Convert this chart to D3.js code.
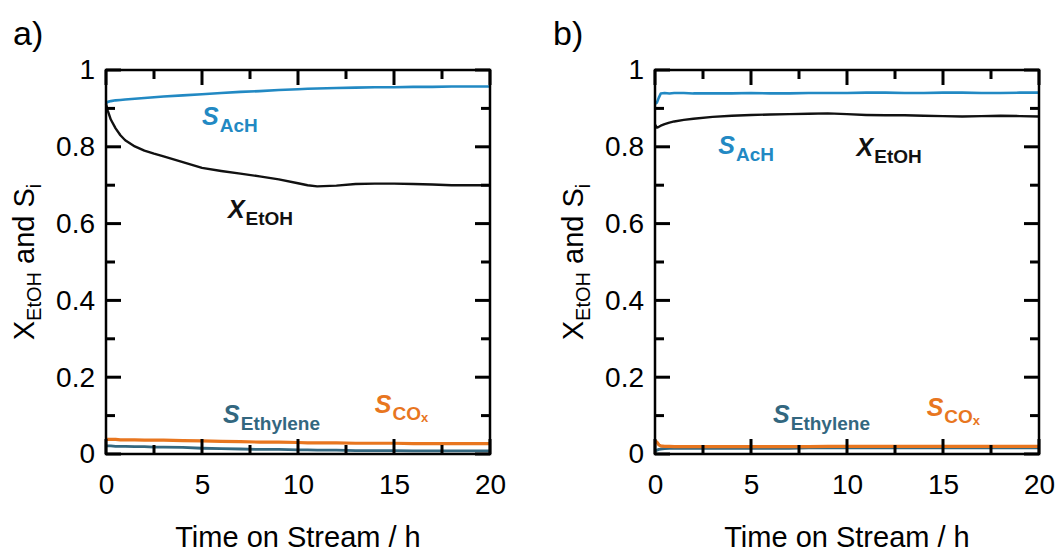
<!DOCTYPE html>
<html>
<head>
<meta charset="utf-8">
<script src="https://cdn.jsdelivr.net/npm/d3@7"></script>
<style>
  html, body { margin: 0; padding: 0; background: #fff; }
  svg { display: block; }
  text { font-family: Arial, "Liberation Sans", sans-serif; }
</style>
</head>
<body>
<svg id="chart" width="1058" height="553"></svg>
<script>
// ---- Panel a) time-on-stream data ----
const timeA = [0, 0.1, 0.25, 0.5, 0.75, 1, 1.5, 2, 2.5, 3, 4, 5, 6, 7, 8, 9, 10, 10.5, 11, 12, 13, 14, 15, 16, 17, 18, 19, 20];
const xEtOH_A = [0.912, 0.893, 0.871, 0.848, 0.830, 0.817, 0.801, 0.790, 0.782, 0.775, 0.760, 0.745, 0.737, 0.730, 0.723, 0.715, 0.705, 0.700, 0.697, 0.699, 0.703, 0.704, 0.704, 0.703, 0.702, 0.700, 0.700, 0.700];
const sAcH_A = [0.914, 0.917, 0.919, 0.921, 0.922, 0.923, 0.925, 0.927, 0.929, 0.931, 0.934, 0.937, 0.940, 0.943, 0.945, 0.948, 0.950, 0.951, 0.952, 0.953, 0.954, 0.955, 0.955, 0.956, 0.956, 0.957, 0.957, 0.957];
const sEthylene_A = [0.021, 0.021, 0.021, 0.020, 0.020, 0.020, 0.019, 0.019, 0.018, 0.018, 0.017, 0.015, 0.014, 0.013, 0.012, 0.012, 0.011, 0.011, 0.010, 0.010, 0.009, 0.009, 0.009, 0.008, 0.008, 0.008, 0.008, 0.008];
const sCOx_A = [0.038, 0.038, 0.038, 0.038, 0.037, 0.037, 0.037, 0.036, 0.036, 0.036, 0.035, 0.034, 0.033, 0.032, 0.031, 0.031, 0.030, 0.029, 0.029, 0.029, 0.028, 0.028, 0.028, 0.027, 0.027, 0.027, 0.027, 0.027];

// ---- Panel b) time-on-stream data ----
const timeB = [0, 0.1, 0.2, 0.3, 0.5, 0.75, 1, 1.5, 2, 3, 4, 5, 6, 7, 8, 9, 10, 11, 12, 13, 14, 15, 16, 17, 18, 19, 20];
const xEtOH_B = [0.858, 0.850, 0.852, 0.855, 0.859, 0.863, 0.866, 0.870, 0.873, 0.878, 0.881, 0.883, 0.884, 0.885, 0.886, 0.887, 0.885, 0.883, 0.882, 0.882, 0.881, 0.880, 0.879, 0.880, 0.881, 0.880, 0.879];
const sAcH_B = [0.912, 0.915, 0.928, 0.939, 0.940, 0.939, 0.940, 0.940, 0.939, 0.939, 0.939, 0.940, 0.939, 0.939, 0.940, 0.940, 0.940, 0.941, 0.941, 0.940, 0.940, 0.941, 0.941, 0.940, 0.940, 0.941, 0.941];
const sEthylene_B = [0.008, 0.010, 0.012, 0.013, 0.014, 0.015, 0.015, 0.015, 0.015, 0.015, 0.015, 0.015, 0.015, 0.015, 0.016, 0.016, 0.016, 0.016, 0.016, 0.016, 0.016, 0.016, 0.016, 0.016, 0.016, 0.016, 0.016];
const sCOx_B = [0.034, 0.031, 0.024, 0.021, 0.020, 0.020, 0.019, 0.019, 0.019, 0.019, 0.019, 0.019, 0.019, 0.019, 0.019, 0.020, 0.020, 0.020, 0.020, 0.020, 0.020, 0.020, 0.020, 0.020, 0.020, 0.020, 0.020];

// ---- Axis ticks ----
const xMajorTicks = [0, 5, 10, 15, 20];
const xMinorTicks = [2.5, 7.5, 12.5, 17.5];
const yMajorTicks = [0, 0.2, 0.4, 0.6, 0.8, 1];
const yMinorTicks = [0.1, 0.3, 0.5, 0.7, 0.9];

const xAxisTitle = "Time on Stream / h";
const panelLetters = ["a)", "b)"];

const colors = { x: "#111111", acH: "#2289c3", ethylene: "#33677f", cox: "#e8761f" };

const svg = d3.select("#chart");

function drawPanel(cfg) {
  const { left, top, width, height, letter, letterX, time, series, labels } = cfg;
  const x = d3.scaleLinear().domain([0, 20]).range([left, left + width]);
  const y = d3.scaleLinear().domain([0, 1]).range([top + height, top]);
  const bottom = top + height, right = left + width;
  const g = svg.append("g");

  // data lines
  const line = (vals) => d3.line().x((d, i) => x(time[i])).y(d => y(d))(vals);
  series.forEach(s => {
    g.append("path").attr("d", line(s.values))
      .attr("fill", "none").attr("stroke", s.color)
      .attr("stroke-width", s.width).attr("stroke-linejoin", "round");
  });

  // frame
  g.append("rect").attr("x", left).attr("y", top).attr("width", width).attr("height", height)
    .attr("fill", "none").attr("stroke", "#000").attr("stroke-width", 2.5);

  // inward ticks on all four sides
  const majorLen = 15, minorLen = 9;
  const xt = [...xMajorTicks.map(v => [v, majorLen]), ...xMinorTicks.map(v => [v, minorLen])];
  const yt = [...yMajorTicks.map(v => [v, majorLen]), ...yMinorTicks.map(v => [v, minorLen])];
  const tg = g.append("g").attr("stroke", "#000").attr("stroke-width", 3);
  tg.selectAll("line.xb").data(xt).join("line").attr("class", "xb")
    .attr("x1", d => x(d[0])).attr("x2", d => x(d[0])).attr("y1", bottom).attr("y2", d => bottom - d[1]);
  tg.selectAll("line.xt").data(xt).join("line").attr("class", "xt")
    .attr("x1", d => x(d[0])).attr("x2", d => x(d[0])).attr("y1", top).attr("y2", d => top + d[1]);
  tg.selectAll("line.yl").data(yt).join("line").attr("class", "yl")
    .attr("y1", d => y(d[0])).attr("y2", d => y(d[0])).attr("x1", left).attr("x2", d => left + d[1]);
  tg.selectAll("line.yr").data(yt).join("line").attr("class", "yr")
    .attr("y1", d => y(d[0])).attr("y2", d => y(d[0])).attr("x1", right).attr("x2", d => right - d[1]);

  // tick labels
  const fmt = d3.format("~g");
  const xl = g.append("g").attr("transform", `translate(0,${bottom})`)
    .call(d3.axisBottom(x).tickValues(xMajorTicks).tickSize(0).tickPadding(20).tickFormat(fmt));
  xl.select(".domain").remove();
  xl.selectAll("text").attr("font-size", 28).attr("fill", "#000")
    .attr("font-family", 'Arial, "Liberation Sans", sans-serif');

  const yl = g.append("g").attr("transform", `translate(${left},0)`)
    .call(d3.axisLeft(y).tickValues(yMajorTicks).tickSize(0).tickPadding(11).tickFormat(fmt));
  yl.select(".domain").remove();
  yl.selectAll("text").attr("font-size", 28).attr("fill", "#000")
    .attr("font-family", 'Arial, "Liberation Sans", sans-serif');

  // x-axis title
  g.append("text").attr("x", left + width / 2).attr("y", 547)
    .attr("text-anchor", "middle").attr("font-size", 29).text(xAxisTitle);

  // y-axis title: X_EtOH and S_i
  const ytl = g.append("text")
    .attr("transform", `translate(${left - 72},${top + height / 2}) rotate(-90)`)
    .attr("text-anchor", "middle").attr("font-size", 29);
  ytl.append("tspan").text("X");
  ytl.append("tspan").attr("font-size", 20).attr("dy", 7).text("EtOH");
  ytl.append("tspan").attr("dy", -7).text(" and S");
  ytl.append("tspan").attr("font-size", 20).attr("dy", 7).text("i");

  // panel letter
  g.append("text").attr("x", letterX).attr("y", 45).attr("font-size", 34).text(letter);

  // series annotations
  labels.forEach(lb => {
    const t = g.append("text").attr("x", x(lb.t)).attr("y", y(lb.v)).attr("fill", lb.color)
      .attr("font-weight", "bold");
    t.append("tspan").attr("font-size", 25).attr("font-style", "italic").text(lb.main);
    t.append("tspan").attr("font-size", 19).attr("dy", 7).attr("dx", 1).text(lb.sub);
    if (lb.sub2) t.append("tspan").attr("font-size", 13).attr("dy", 2).text(lb.sub2);
  });
}

drawPanel({
  left: 106, top: 70, width: 384, height: 384, letter: panelLetters[0], letterX: 13, time: timeA,
  series: [
    { values: sCOx_A, color: colors.cox, width: 3.2 },
    { values: sEthylene_A, color: colors.ethylene, width: 2.8 },
    { values: sAcH_A, color: colors.acH, width: 2.6 },
    { values: xEtOH_A, color: colors.x, width: 2.4 }
  ],
  labels: [
    { t: 5.0, v: 0.857, main: "S", sub: "AcH", color: colors.acH },
    { t: 6.35, v: 0.615, main: "X", sub: "EtOH", color: colors.x },
    { t: 6.1, v: 0.081, main: "S", sub: "Ethylene", color: colors.ethylene },
    { t: 14.0, v: 0.107, main: "S", sub: "CO", sub2: "x", color: colors.cox }
  ]
});

drawPanel({
  left: 655, top: 70, width: 384, height: 384, letter: panelLetters[1], letterX: 553, time: timeB,
  series: [
    { values: sEthylene_B, color: colors.ethylene, width: 2.8 },
    { values: sCOx_B, color: colors.cox, width: 3.2 },
    { values: sAcH_B, color: colors.acH, width: 2.6 },
    { values: xEtOH_B, color: colors.x, width: 2.4 }
  ],
  labels: [
    { t: 3.3, v: 0.78, main: "S", sub: "AcH", color: colors.acH },
    { t: 10.5, v: 0.775, main: "X", sub: "EtOH", color: colors.x },
    { t: 6.15, v: 0.081, main: "S", sub: "Ethylene", color: colors.ethylene },
    { t: 14.15, v: 0.10, main: "S", sub: "CO", sub2: "x", color: colors.cox }
  ]
});
</script>
</body>
</html>
